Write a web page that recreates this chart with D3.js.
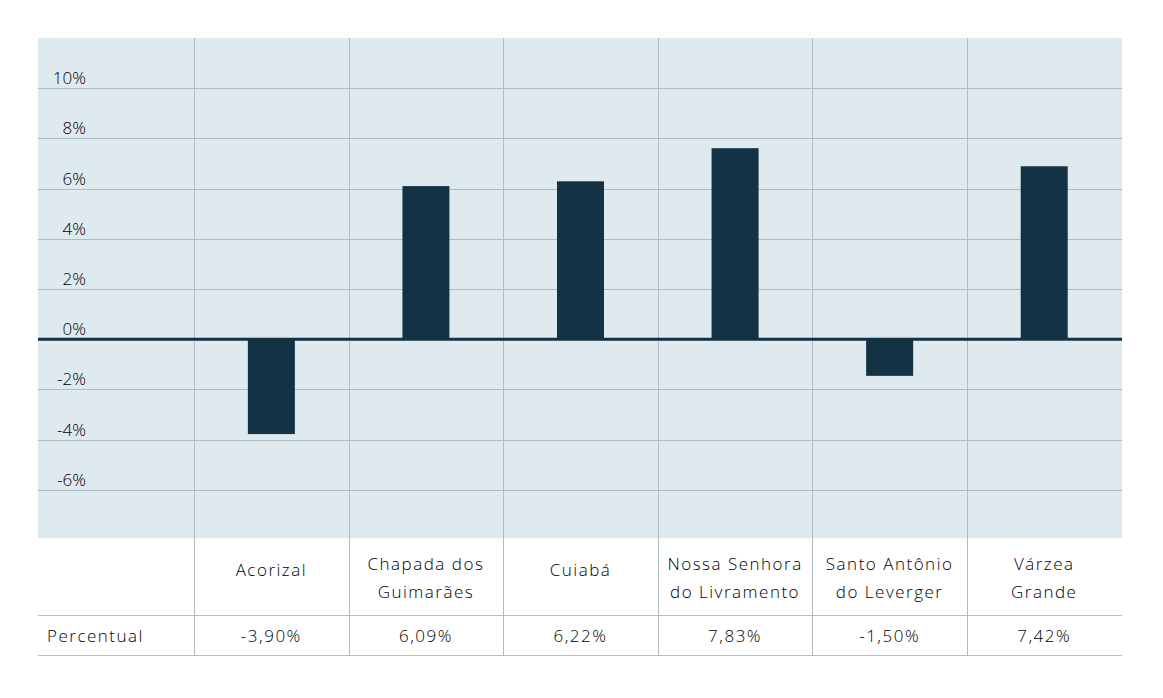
<!DOCTYPE html>
<html>
<head>
<meta charset="utf-8">
<script src="https://cdn.jsdelivr.net/npm/d3@7"></script>
<style>
  html, body { margin: 0; padding: 0; background: #ffffff; }
  svg { display: block; }
  text { font-family: "Open Sans", "Noto Sans", sans-serif; font-weight: 300; }
</style>
</head>
<body>
<svg id="chart" width="1163" height="698"></svg>
<script>
// ---- data ----
const categories = ["Acorizal", "Chapada dos Guimarães", "Cuiabá", "Nossa Senhora do Livramento", "Santo Antônio do Leverger", "Várzea Grande"];
const categoryLines = [["Acorizal"], ["Chapada dos", "Guimarães"], ["Cuiabá"], ["Nossa Senhora", "do Livramento"], ["Santo Antônio", "do Leverger"], ["Várzea", "Grande"]];
const values = [-3.78, 6.10, 6.29, 7.61, -1.46, 6.89];           // bar heights as drawn
const valueLabels = ["-3,90%", "6,09%", "6,22%", "7,83%", "-1,50%", "7,42%"];
const rowLabel = "Percentual";
const yTicks = [-6, -4, -2, 0, 2, 4, 6, 8, 10];

// ---- layout ----
const svg = d3.select("#chart");
const plotLeft = 38, plotRight = 1122, plotTop = 38, plotBottom = 540;
const tableLine1 = 615, tableLine2 = 655;

const x = d3.scaleBand().domain(["__label__", ...categories]).range([39.5, 1121.5]).paddingInner(0).paddingOuter(0);
const y = d3.scaleLinear().domain([-8, 12]).range([plotBottom, plotTop]);

const gridColor = "#aebbc2";
const barColor = "#133243";

// background
svg.append("rect").attr("x", plotLeft).attr("y", plotTop)
  .attr("width", plotRight - plotLeft).attr("height", y(-7.93) - plotTop)
  .attr("fill", "#dfeaef");

// horizontal grid lines
svg.append("g").selectAll("line").data(yTicks.filter(d => d !== 0)).join("line")
  .attr("x1", plotLeft).attr("x2", plotRight)
  .attr("y1", d => Math.round(y(d)) + 0.5).attr("y2", d => Math.round(y(d)) + 0.5)
  .attr("stroke", gridColor).attr("stroke-width", 1);

// vertical grid lines (column separators) through plot and table
svg.append("g").selectAll("line").data(categories).join("line")
  .attr("x1", d => Math.round(x(d)) + 0.5).attr("x2", d => Math.round(x(d)) + 0.5)
  .attr("y1", plotTop).attr("y2", tableLine2)
  .attr("stroke", gridColor).attr("stroke-width", 1);

// y tick labels
svg.append("g").selectAll("text").data(yTicks).join("text")
  .attr("x", 86).attr("y", d => y(d) - 4)
  .attr("text-anchor", "end")
  .attr("font-size", 17)
  .attr("fill", "#000")
  .text(d => d + "%");

// bars
const bw = 47;
svg.append("g").selectAll("rect").data(values).join("rect")
  .attr("x", (d, i) => x(categories[i]) + x.bandwidth() / 2 - bw / 2)
  .attr("width", bw)
  .attr("y", d => Math.min(y(d), y(0)))
  .attr("height", d => Math.abs(y(d) - y(0)))
  .attr("fill", barColor);

// zero line
svg.append("line")
  .attr("x1", plotLeft).attr("x2", plotRight)
  .attr("y1", y(0)).attr("y2", y(0))
  .attr("stroke", barColor).attr("stroke-width", 3);

// table lines
svg.append("g").selectAll("line").data([tableLine1, tableLine2]).join("line")
  .attr("x1", plotLeft).attr("x2", plotRight)
  .attr("y1", d => d + 0.5).attr("y2", d => d + 0.5)
  .attr("stroke", "#b8c0c4").attr("stroke-width", 1);

// category labels
const catG = svg.append("g");
categories.forEach((c, i) => {
  const lines = categoryLines[i];
  const cx = x(c) + x.bandwidth() / 2;
  const t = catG.append("text")
    .attr("x", cx).attr("text-anchor", "middle")
    .attr("font-size", 17).attr("letter-spacing", 1.5)
    .attr("fill", "#000");
  if (lines.length === 1) {
    t.attr("y", 576).text(lines[0]);
  } else {
    lines.forEach((l, j) => {
      t.append("tspan").attr("x", cx).attr("y", 570 + j * 28).text(l);
    });
  }
});

// value row
svg.append("text").attr("x", 47).attr("y", 642)
  .attr("font-size", 17).attr("letter-spacing", 1.5).attr("fill", "#000")
  .text(rowLabel);
svg.append("g").selectAll("text").data(valueLabels).join("text")
  .attr("x", (d, i) => x(categories[i]) + x.bandwidth() / 2)
  .attr("y", 642).attr("text-anchor", "middle")
  .attr("font-size", 17).attr("letter-spacing", 1.5).attr("fill", "#000")
  .text(d => d);
</script>
</body>
</html>
